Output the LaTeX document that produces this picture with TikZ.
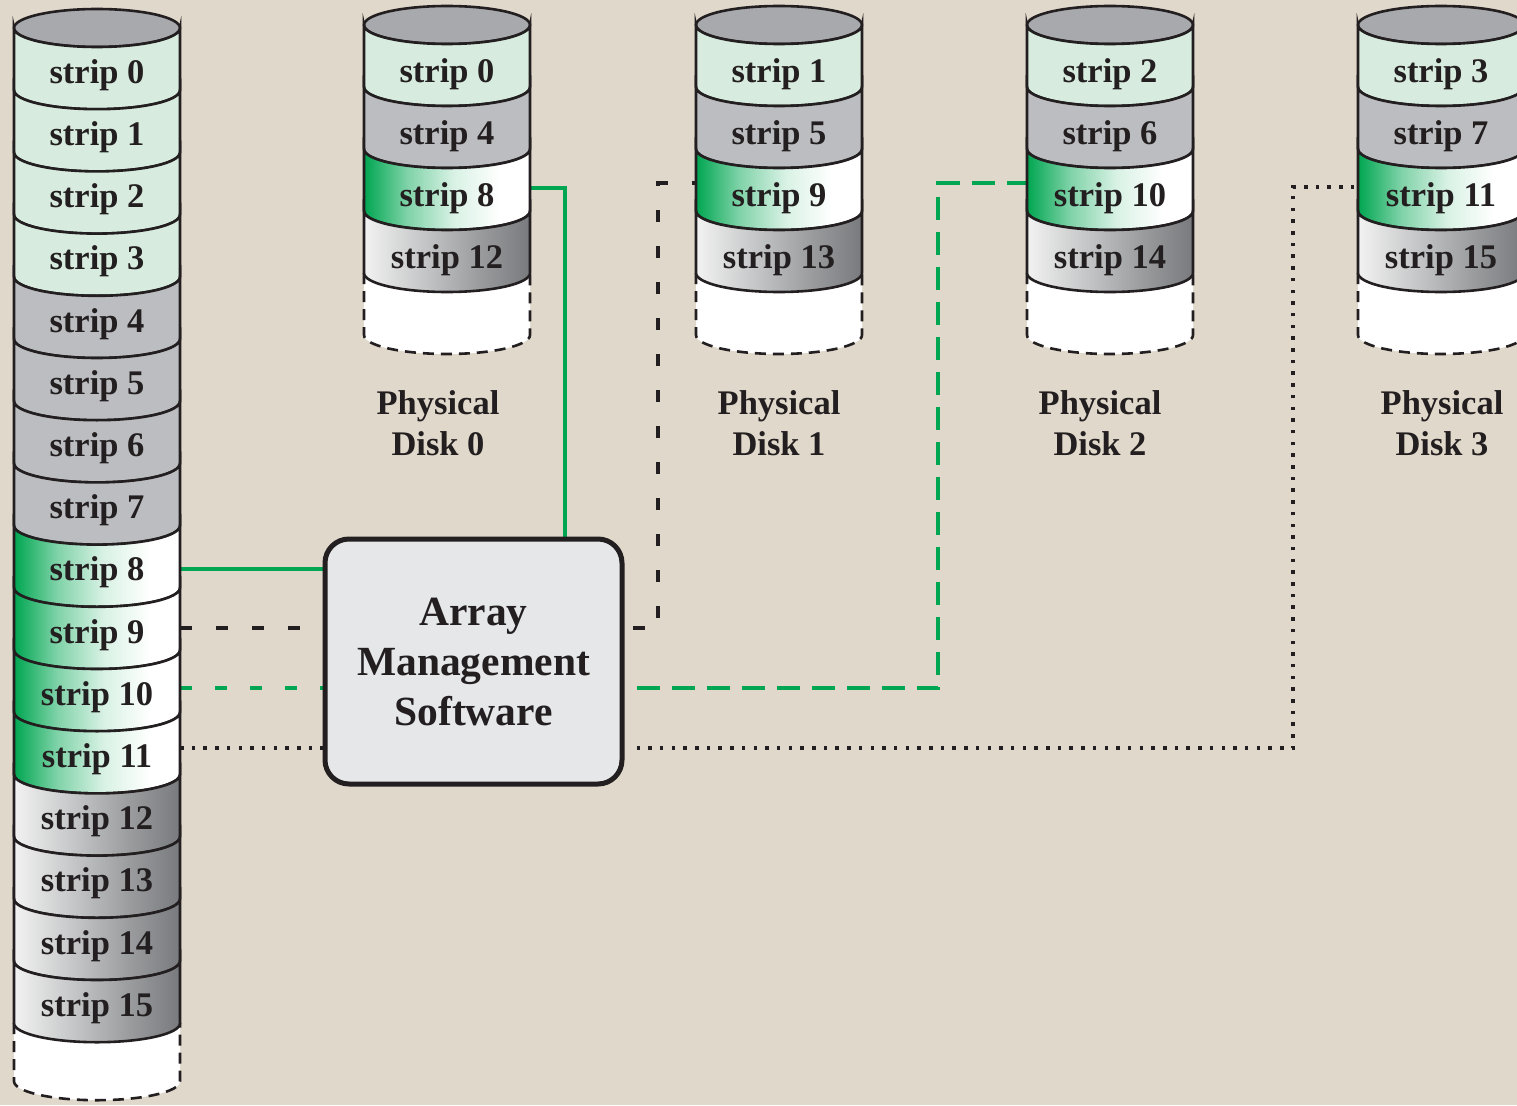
\documentclass[tikz,border=0pt]{standalone}
\usepackage{fontspec}
\setmainfont{Liberation Serif}
\usetikzlibrary{calc}
\definecolor{bg}{RGB}{224,216,202}
\definecolor{GR}{RGB}{0,166,81}
\definecolor{LG}{RGB}{215,236,222}
\definecolor{MG}{RGB}{188,189,192}
\definecolor{TG}{RGB}{167,169,172}
\definecolor{DG}{RGB}{120,122,125}
\definecolor{BX}{RGB}{230,231,232}
\definecolor{KK}{RGB}{35,31,32}
\pgfdeclarehorizontalshading{greenfade}{100bp}{color(0bp)=(GR); color(25bp)=(GR); color(38bp)=(GR!50!white); color(52bp)=(GR!15!white); color(66bp)=(white); color(100bp)=(white)}
\pgfdeclarehorizontalshading{grayfade}{100bp}{color(0bp)=(white!95!black); color(25bp)=(white!95!black); color(60bp)=(DG!75!white); color(75bp)=(DG); color(100bp)=(DG)}
\pgfdeclarelayer{bgl}
\pgfdeclarelayer{lines}
\pgfsetlayers{bgl,lines,main}
\newcommand\diskseg[4]{%
  \path[#4] ({#1-83},#2) -- ({#1-83},{#2+#3})
    arc[start angle=180,end angle=0,x radius=83,y radius=19]
    -- ({#1+83},#2)
    arc[start angle=0,end angle=180,x radius=83,y radius=19] -- cycle;}
\newcommand\disktop[2]{%
  \path[topst] (#1,#2) ellipse[x radius=83,y radius=19];}
\newcommand\diskfoot[3]{%
  \path[fill=white] ({#1-83},#2) -- ({#1-83},{#2+#3})
    arc[start angle=180,end angle=0,x radius=83,y radius=19]
    -- ({#1+83},#2) -- cycle;
  \draw[footst] ({#1-83},#2) -- ({#1-83},{#2+#3})
    arc[start angle=180,end angle=0,x radius=83,y radius=19]
    -- ({#1+83},#2);}
\begin{document}
\begin{tikzpicture}[x=1pt,y=-1pt,
  segline/.style={draw=KK,line width=2.6pt},
  s0/.style={segline,fill=LG},
  s1/.style={segline,fill=MG},
  s2/.style={segline,shading=greenfade},
  s3/.style={segline,shading=grayfade},
  segsty/.code={\ifcase#1\relax\tikzset{s0}\or\tikzset{s1}\or\tikzset{s2}\or\tikzset{s3}\fi},
  topst/.style={draw=KK,line width=2.6pt,fill=TG},
  footst/.style={draw=KK,line width=2.6pt,dash pattern=on 11pt off 7pt},
  lbl/.style={inner sep=0pt,text=KK,font=\fontsize{34.5}{40}\selectfont\bfseries},
  plbl/.style={inner sep=0pt,text=KK,align=center,font=\fontsize{34.5}{41}\selectfont\bfseries},
  amsbox/.style={draw=KK,line width=5pt,fill=BX,rounded corners=24pt,minimum width=297pt,
    minimum height=245pt,align=center,inner sep=0pt,text=KK,
    font=\fontsize{41.5}{50}\selectfont\bfseries},
  gsolid/.style={draw=GR,line width=4pt},
  kdash/.style={draw=KK,line width=4pt,dash pattern=on 12pt off 24pt},
  gdashA/.style={draw=GR,line width=4pt,dash pattern=on 12pt off 23pt},
  gdashB/.style={draw=GR,line width=4pt,dash pattern=on 23pt off 12pt},
  kdot/.style={draw=KK,line width=3.5pt,dash pattern=on 3.5pt off 8.2pt}]
\useasboundingbox (0,0) rectangle (1517,1105);
\begin{pgfonlayer}{bgl}
\fill[bg] (0,0) rectangle (1517,1105);
\end{pgfonlayer}

% logical disk (left)
\diskfoot{97}{1023.2}{58}
\disktop{97}{28}
\foreach \k in {0,...,15}{
  \pgfmathsetmacro\yt{28+62.2*\k}
  \pgfmathtruncatemacro\grp{\k/4}
  \diskseg{97}{\yt}{62.2}{segsty=\grp}
  \node[lbl] (LS\k) at (97,{\yt+47}) {strip \k};
}

% physical disks
\foreach \d/\cx/\lx in {0/447/438,1/779/779,2/1110/1100,3/1441/1442}{
  \diskfoot{\cx}{273}{62}
  \disktop{\cx}{25}
  \foreach \k in {0,...,3}{
    \pgfmathsetmacro\yt{25+62*\k}
    \pgfmathtruncatemacro\n{\d+4*\k}
    \diskseg{\cx}{\yt}{62}{segsty=\k}
    \node[lbl] (D\d S\k) at (\cx,{\yt+49}) {strip \n};
  }
  \node[plbl] (P\d) at (\lx,423) {Physical\\Disk \d};
}

% array management software
\node[amsbox] (ams) at (473.5,661.5) {Array\\Management\\Software};

% connector points
\coordinate (L8) at (180,569);
\coordinate (L9) at (180,628);
\coordinate (L10) at (180,688);
\coordinate (L11) at (180,748);
\coordinate (C0) at (530,188);
\coordinate (C1) at (696,183);
\coordinate (C2) at (1027,183);
\coordinate (C3) at (1358,187);
\coordinate (V1) at (658,183);
\coordinate (V2) at (938,183);
\coordinate (V3) at (1293,187);

\begin{pgfonlayer}{lines}
\draw[gsolid] (L8) -- (L8 -| ams.west);
\draw[gsolid] ([xshift=91.5pt]ams.north) |- (C0);
\draw[kdash] (L9) -- (L9 -| ams.west);
\draw[kdash] ([xshift=8pt]L9 -| ams.east) -| (V1) -- (C1);
\draw[gdashA] (L10) -- (L10 -| ams.west);
\draw[gdashB] ([xshift=12pt]L10 -| ams.east) -| (V2) -- (C2);
\draw[kdot] (L11) -- (L11 -| ams.west);
\draw[kdot] ([xshift=12pt]L11 -| ams.east) -| (V3) -- (C3);
\end{pgfonlayer}
\end{tikzpicture}
\end{document}
